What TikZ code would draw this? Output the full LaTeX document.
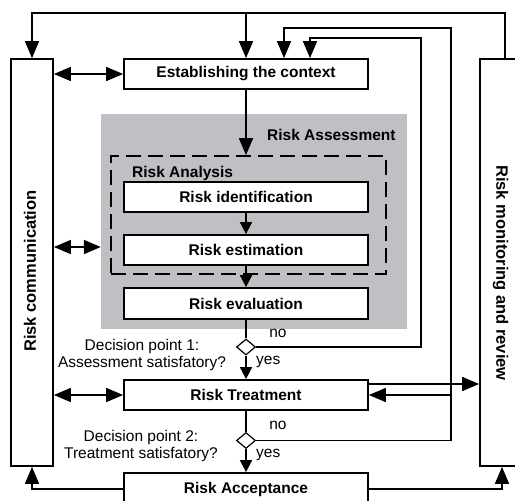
\documentclass[tikz,border=0pt]{standalone}
\usepackage{fontspec}
\setmainfont{Liberation Sans}
\usetikzlibrary{arrows.meta,shapes.geometric}
\definecolor{assessgray}{RGB}{191,192,195}
\begin{document}
\begin{tikzpicture}[x=1pt,y=-1pt,
  box/.style={draw, line width=1.8pt, fill=white, inner sep=0pt,
    font=\bfseries\fontsize{15.5}{18}\selectfont},
  flow/.style={line width=1.7pt},
  arr/.style={flow, -{Triangle[length=17pt,width=14pt]}},
  sarr/.style={flow, -{Triangle[length=12pt,width=12pt]}},
  darr/.style={flow, {Triangle[length=17pt,width=14pt]}-{Triangle[length=17pt,width=14pt]}},
  dec/.style={diamond, draw, line width=1.2pt, fill=white, minimum width=19pt,
    minimum height=16pt, inner sep=0pt},
  lbl/.style={font=\fontsize{15.5}{17}\selectfont, inner sep=0pt},
  blbl/.style={font=\bfseries\fontsize{15.5}{17}\selectfont, inner sep=0pt},
  side/.style={font=\bfseries\fontsize{16.5}{18}\selectfont, inner sep=0pt}]
\clip (0,0) rectangle (515,501);
\fill[white] (0,0) rectangle (515,501);

% side boxes
\node[box, minimum width=42pt, minimum height=407pt] (comm) at (32,262.5) {};
\node[box, minimum width=65pt, minimum height=407pt] (mon) at (512.5,262.5) {};
\node[side, rotate=90] (commlbl) at (30,271) {Risk communication};
\node[side, rotate=-90] (monlbl) at (500.5,273) {Risk monitoring and review};

% risk assessment area
\node[fill=assessgray, minimum width=306pt, minimum height=215pt, inner sep=0pt] (assess) at (254,221.5) {};
\node[blbl, anchor=base west] (assesslbl) at (267,140) {Risk Assessment};
\node[draw, dashed, dash pattern=on 15pt off 7pt, line width=1.7pt,
  minimum width=275pt, minimum height=118pt, inner sep=0pt] (analysis) at (248.5,215) {};
\node[blbl, anchor=base west] (analysislbl) at (132,177) {Risk Analysis};

% process steps
\node[box, minimum width=244pt, minimum height=30pt] (ctx) at (246,74) {Establishing the context};
\node[box, minimum width=244pt, minimum height=30pt] (ident) at (246,197) {Risk identification};
\node[box, minimum width=244pt, minimum height=30pt] (estim) at (246,250) {Risk estimation};
\node[box, minimum width=244pt, minimum height=31pt] (evalu) at (246,303.5) {Risk evaluation};
\node[box, minimum width=244pt, minimum height=30pt] (treat) at (246,395) {Risk Treatment};
\node[box, minimum width=244pt, minimum height=32pt] (accept) at (246,489) {Risk Acceptance};

% decision points
\node[dec] (d1) at (246,347) {};
\node[dec] (d2) at (246,440.5) {};
\node[lbl, align=center] (d1lbl) at (142,355) {Decision point 1:\\Assessment satisfatory?};
\node[lbl, align=center] (d2lbl) at (141,446) {Decision point 2:\\Treatment satisfatory?};
\node[lbl, anchor=base] (no1) at (278,337) {no};
\node[lbl, anchor=base west] (yes1) at (256,364) {yes};
\node[lbl, anchor=base] (no2) at (278,429) {no};
\node[lbl, anchor=base west] (yes2) at (256,457) {yes};

% main flow
\draw[arr] (ctx.south) -- (ctx.south |- analysis.north);
\draw[sarr] (ident) -- (estim);
\draw[sarr] (estim) -- (evalu);
\draw[flow] (evalu) -- (d1);
\draw[sarr] (d1) -- (treat);
\draw[flow] (treat) -- (d2);
\draw[sarr] (d2) -- (accept);

% feedback loops
\draw[arr] (d1.east) -| (421,38) -| ([xshift=64pt]ctx.north);
\draw[arr] (d2.east) -| (451,28) -| ([xshift=38pt]ctx.north);
\draw[arr] (451,395) -- (treat.east);
\path ([yshift=11pt]treat.east) coordinate (tout);
\draw[arr] (tout) -- (tout -| mon.west);

% monitoring back to the start
\draw[arr] ([xshift=-7.5pt]mon.north) |- (32,13) -- (comm.north);
\draw[arr] (246,13) -- (ctx.north);

% communication links
\draw[darr] (comm.east |- ctx) -- (ctx.west);
\draw[darr] (comm.east |- 0,247) -- (assess.west |- 0,247);
\draw[darr] (comm.east |- treat) -- (treat.west);

% acceptance to both side activities
\draw[arr] (accept.west) -| (comm.south);
\draw[arr] (accept.east) -| ([xshift=-10.5pt]mon.south);
\end{tikzpicture}
\end{document}
